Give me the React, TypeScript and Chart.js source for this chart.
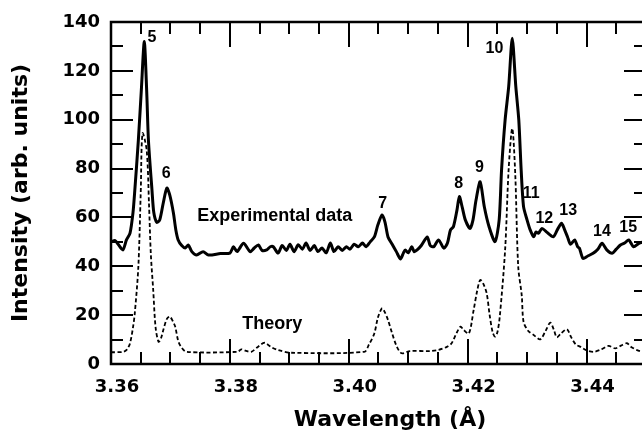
import React, { useEffect, useRef } from 'react';
import { Chart, registerables } from 'chart.js';

Chart.register(...registerables);

// ---- data ----
const expWavelength = [
  3.3600, 3.3607, 3.3612, 3.3620, 3.3626, 3.3632, 3.3637, 3.3640, 3.3646, 3.3651,
  3.3656, 3.3660, 3.3663, 3.3669, 3.3672, 3.3677, 3.3682, 3.3688, 3.3694, 3.3699,
  3.3705, 3.3709, 3.3713, 3.3719, 3.3725, 3.3730, 3.3736, 3.3744, 3.3755, 3.3764,
  3.3784, 3.3800, 3.3806, 3.3812, 3.3823, 3.3834, 3.3841, 3.3848, 3.3854, 3.3862,
  3.3868, 3.3873, 3.3881, 3.3888, 3.3895, 3.3901, 3.3908, 3.3915, 3.3922, 3.3928,
  3.3935, 3.3942, 3.3948, 3.3955, 3.3962, 3.3969, 3.3975, 3.3982, 3.3989, 3.3996,
  3.4002, 3.4009, 3.4016, 3.4023, 3.4029, 3.4036, 3.4043, 3.4049, 3.4056, 3.4061,
  3.4066, 3.4073, 3.4080, 3.4087, 3.4092, 3.4095, 3.4100, 3.4106, 3.4110, 3.4115,
  3.4122, 3.4132, 3.4137, 3.4143, 3.4151, 3.4160, 3.4166, 3.4171, 3.4176, 3.4182,
  3.4186, 3.4191, 3.4196, 3.4204, 3.4209, 3.4214, 3.4221, 3.4228, 3.4236, 3.4246,
  3.4253, 3.4257, 3.4263, 3.4269, 3.4275, 3.4281, 3.4286, 3.4290, 3.4294, 3.4300,
  3.4305, 3.4311, 3.4315, 3.4319, 3.4325, 3.4333, 3.4344, 3.4351, 3.4358, 3.4363,
  3.4368, 3.4373, 3.4380, 3.4385, 3.4388, 3.4394, 3.4402, 3.4411, 3.4419, 3.4426,
  3.4434, 3.4443, 3.4450, 3.4457, 3.4464, 3.4471, 3.4479, 3.4488, 3.4496,
];
const expIntensity = [
  50, 50.5, 49, 46.7, 50.8, 53.6, 62, 71, 91.5, 112,
  132, 112, 91.5, 71, 62, 58, 59, 66, 72, 69,
  61.8, 55, 50.8, 48.5, 47.5, 48.7, 46, 44.6, 46, 44.6,
  45.2, 45.4, 48, 46, 49.4, 46, 47.5, 48.7, 46.5, 46.7,
  48, 48, 45.4, 48.5, 46.5, 49, 46, 48.8, 47, 49.5,
  46.5, 48.5, 46, 47.5, 45.5, 49.5, 46, 48, 46.5, 48,
  47, 49, 48, 49.5, 48, 50, 52, 57, 61, 58,
  52, 49, 46, 43, 45.5, 46.7, 45.5, 48, 46, 46.7,
  48.5, 52, 48.5, 48, 50.8, 47.4, 49.5, 54.8, 56.2, 63,
  68.5, 64, 59, 55.5, 59, 67, 74.6, 64.4, 56.2, 50.1,
  59, 79.4, 99.9, 113.5, 133.3, 113.5, 99.9, 79.4, 64.4, 58.9,
  55, 52.1, 54, 53.5, 55.5, 54, 52.1, 55, 57.6, 55,
  52, 49, 50.8, 48, 47.4, 43.2, 44.2, 45.3, 47, 49.4,
  46.7, 45.3, 47, 48.7, 49.5, 50.8, 48, 49.4, 50,
];

const theoryWavelength = [
  3.3600, 3.3621, 3.3627, 3.3632, 3.3637, 3.3640, 3.3646, 3.3650, 3.3653, 3.3660,
  3.3664, 3.3667, 3.3671, 3.3675, 3.3680, 3.3684, 3.3688, 3.3694, 3.3699, 3.3704,
  3.3708, 3.3713, 3.3718, 3.3727, 3.3813, 3.3819, 3.3826, 3.3836, 3.3847, 3.3858,
  3.3869, 3.3881, 3.3903, 3.4026, 3.4034, 3.4043, 3.4049, 3.4056, 3.4061, 3.4066,
  3.4073, 3.4081, 3.4089, 3.4103, 3.4137, 3.4151, 3.4165, 3.4173, 3.4181, 3.4188,
  3.4193, 3.4202, 3.4210, 3.4216, 3.4221, 3.4226, 3.4232, 3.4237, 3.4242, 3.4246,
  3.4250, 3.4254, 3.4263, 3.4269, 3.4275, 3.4280, 3.4285, 3.4291, 3.4294, 3.4302,
  3.4311, 3.4322, 3.4331, 3.4339, 3.4345, 3.4350, 3.4357, 3.4367, 3.4374, 3.4382,
  3.4390, 3.4401, 3.4412, 3.4423, 3.4437, 3.4448, 3.4458, 3.4468, 3.4475, 3.4485,
  3.4494,
];
const theoryIntensity = [
  4.8, 5, 6, 8.5, 15, 20.7, 39.8, 70, 94.4, 87.6,
  65, 45, 30.3, 15, 9.1, 10.5, 13.9, 18.5, 19.4, 17.5,
  15.3, 9.5, 7, 5, 5, 6, 5.5, 5, 7, 8.7,
  7, 5.7, 4.6, 5, 8, 12.5, 19, 22.8, 21, 18,
  12.5, 7, 4.4, 5.3, 5.3, 5.8, 7, 8.5, 12.5, 15.3,
  14, 12.5, 22, 30, 34.4, 33, 28.9, 20, 13, 11.2,
  13, 19.4, 46.7, 80, 96.4, 78, 40, 28, 17.3, 13.5,
  11.9, 10.1, 13.5, 16.9, 14, 10.9, 12.5, 14.2, 11, 8,
  7, 5.5, 5, 5.8, 7.4, 6.4, 7.5, 8.5, 7, 5.7,
  5,
];

const xTickValues = [3.36, 3.38, 3.40, 3.42, 3.44];
const yTickValues = [0, 20, 40, 60, 80, 100, 120, 140];

const peakLabels = ['5', '6', '7', '8', '9', '10', '11', '12', '13', '14', '15'];
const peakLabelWavelength = [3.3669, 3.3693, 3.4057, 3.4185, 3.4220, 3.4245, 3.4307, 3.4329, 3.4369, 3.4426, 3.4470];
const peakLabelIntensity = [133.6, 77.8, 65.5, 73.7, 80.2, 129, 69.6, 59.6, 62.6, 54.2, 55.9];

const seriesLabels = ['Experimental data', 'Theory'];
const seriesLabelWavelength = [3.3745, 3.3821];
const seriesLabelIntensity = [60.6, 16.4];

const xTitle = 'Wavelength (Å)';
const yTitle = 'Intensity (arb. units)';

const AXIS_FONT = '"DejaVu Sans", sans-serif';
const NOTE_FONT = '"Liberation Sans", Arial, sans-serif';

const framePlugin = {
  id: 'frameTicksNotes',
  afterDraw(chart: any) {
    const { ctx, chartArea: a, scales } = chart;
    const x = scales.x;
    const y = scales.y;
    ctx.save();
    ctx.strokeStyle = '#000';
    ctx.lineCap = 'butt';
    // inward ticks on x (bottom + top)
    ctx.lineWidth = 2;
    for (let k = 0; k <= 18; k++) {
      const v = 3.36 + k * 0.005;
      const px = Math.round(x.getPixelForValue(v)) + 0.0;
      const major = k % 4 === 0;
      const len = major ? 25 : 12;
      ctx.beginPath();
      ctx.moveTo(px, a.bottom);
      ctx.lineTo(px, a.bottom - len);
      ctx.moveTo(px, a.top);
      ctx.lineTo(px, a.top + len);
      ctx.stroke();
    }
    for (let k = 0; k <= 14; k++) {
      const v = k * 10;
      const py = Math.round(y.getPixelForValue(v));
      const major = k % 2 === 0;
      const len = major ? 22 : 12;
      ctx.beginPath();
      ctx.moveTo(a.left, py);
      ctx.lineTo(a.left + len, py);
      ctx.moveTo(a.right, py);
      ctx.lineTo(a.right - len, py);
      ctx.stroke();
    }
    // frame
    ctx.lineWidth = 2.5;
    ctx.strokeRect(a.left, a.top, a.right - a.left, a.bottom - a.top);

    // peak labels
    ctx.fillStyle = '#000';
    ctx.textBaseline = 'middle';
    ctx.textAlign = 'center';
    ctx.font = `bold 16px ${NOTE_FONT}`;
    peakLabels.forEach((t, i) => {
      ctx.fillText(t, x.getPixelForValue(peakLabelWavelength[i]), y.getPixelForValue(peakLabelIntensity[i]));
    });
    ctx.textAlign = 'left';
    ctx.font = `bold 18px ${NOTE_FONT}`;
    seriesLabels.forEach((t, i) => {
      ctx.fillText(t, x.getPixelForValue(seriesLabelWavelength[i]), y.getPixelForValue(seriesLabelIntensity[i]));
    });

    // axis titles
    ctx.font = `bold 22px ${AXIS_FONT}`;
    ctx.textAlign = 'center';
    ctx.fillText(xTitle, 390, 420);
    ctx.save();
    ctx.translate(21, (a.top + a.bottom) / 2);
    ctx.rotate(-Math.PI / 2);
    ctx.fillText(yTitle, 0, 0);
    ctx.restore();
    ctx.restore();
  },
};

export default function App() {
  const ref = useRef<HTMLCanvasElement | null>(null);
  useEffect(() => {
    if (!ref.current) return;
    const chart = new Chart(ref.current, {
      type: 'line',
      data: {
        datasets: [
          {
            label: 'Experimental data',
            data: expWavelength.map((w, i) => ({ x: w, y: expIntensity[i] })),
            borderColor: '#000',
            borderWidth: 3,
            pointRadius: 0,
            tension: 0.25,
            fill: false,
          },
          {
            label: 'Theory',
            data: theoryWavelength.map((w, i) => ({ x: w, y: theoryIntensity[i] })),
            borderColor: '#000',
            borderWidth: 1.8,
            borderDash: [4, 2.5],
            pointRadius: 0,
            tension: 0.3,
            fill: false,
          },
        ],
      },
      options: {
        animation: false,
        responsive: false,
        maintainAspectRatio: false,
        devicePixelRatio: 1,
        layout: { padding: { left: 0, top: 22, right: 14, bottom: 0 } },
        plugins: { legend: { display: false }, tooltip: { enabled: false }, title: { display: false } },
        scales: {
          x: {
            type: 'linear',
            min: 3.36,
            max: 3.45,
            grid: { display: false, drawTicks: false },
            border: { display: false },
            afterBuildTicks: (s: any) => {
              s.ticks = xTickValues.map((v) => ({ value: v }));
            },
            afterFit: (s: any) => {
              s.height = 79;
            },
            ticks: {
              autoSkip: false,
              maxRotation: 0,
              padding: 13,
              labelOffset: 6,
              color: '#000',
              font: { family: AXIS_FONT, size: 18, weight: 'bold' },
              callback: (v: any) => Number(v).toFixed(2),
            },
          },
          y: {
            type: 'linear',
            min: 0,
            max: 140,
            grid: { display: false, drawTicks: false },
            border: { display: false },
            afterBuildTicks: (s: any) => {
              s.ticks = yTickValues.map((v) => ({ value: v }));
            },
            afterFit: (s: any) => {
              s.width = 111;
            },
            ticks: {
              autoSkip: false,
              padding: 11,
              color: '#000',
              font: { family: AXIS_FONT, size: 18, weight: 'bold' },
              callback: (v: any) => String(v),
            },
          },
        },
      } as any,
      plugins: [framePlugin],
    });
    return () => chart.destroy();
  }, []);

  return (
    <div style={{ position: 'fixed', left: 0, top: 0, width: 642, height: 443, overflow: 'hidden', background: '#fff' }}>
      <canvas ref={ref} width={660} height={443} style={{ display: 'block', width: 660, height: 443 }} />
    </div>
  );
}
